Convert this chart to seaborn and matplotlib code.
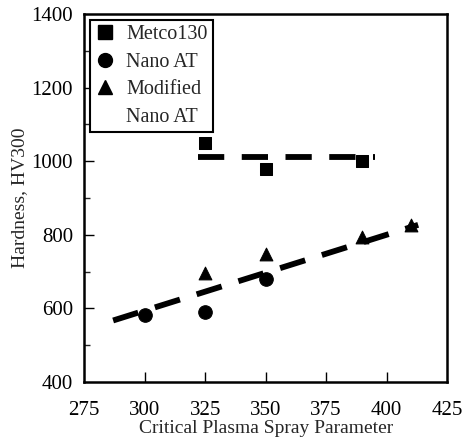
import matplotlib
matplotlib.use("Agg")
import matplotlib.pyplot as plt
import seaborn as sns
from matplotlib.lines import Line2D

# Data
metco_x = [325, 350, 390]
metco_y = [1050, 980, 1000]
nano_x = [300, 325, 350]
nano_y = [582, 590, 680]
mod_x = [325, 350, 390, 410]
mod_y = [695, 748, 795, 827]
metco_fit_x = [322, 395]
metco_fit_y = [1012, 1012]
nano_fit_x = [287, 413]
nano_fit_y = [567, 827]

x_ticks = [275, 300, 325, 350, 375, 400, 425]
y_ticks = [400, 600, 800, 1000, 1200, 1400]

sns.set_style("ticks")
plt.rcParams['font.family'] = ['Liberation Serif', 'DejaVu Serif']

fig = plt.figure(figsize=(4.62, 4.41), dpi=100)
ax = fig.add_axes([0.182, 0.134, 0.786, 0.834])

dash = (4.5, 3.0)
sns.lineplot(x=metco_fit_x, y=metco_fit_y, ax=ax, color='black', lw=4.2,
             legend=False)
ax.lines[-1].set_dashes(dash)
sns.lineplot(x=nano_fit_x, y=nano_fit_y, ax=ax, color='black', lw=4.2,
             legend=False)
ax.lines[-1].set_dashes(dash)

sns.scatterplot(x=metco_x, y=metco_y, marker='s', s=85, color='black',
                edgecolor='black', ax=ax, legend=False, zorder=3)
sns.scatterplot(x=nano_x, y=nano_y, marker='o', s=95, color='black',
                edgecolor='black', ax=ax, legend=False, zorder=3)
sns.scatterplot(x=mod_x, y=mod_y, marker='^', s=85, color='black',
                edgecolor='black', ax=ax, legend=False, zorder=3)

ax.set_xlim(275, 425)
ax.set_ylim(400, 1400)
ax.set_xticks(x_ticks)
ax.set_xticklabels([str(v) for v in x_ticks])
ax.set_yticks(y_ticks)
ax.set_yticks([500, 700, 900, 1100, 1300], minor=True)
ax.tick_params(axis='both', which='major', direction='in', length=7,
               width=1, labelsize=15, colors='black')
ax.tick_params(axis='y', which='minor', direction='in', length=4, width=1)
ax.tick_params(axis='x', pad=14)
ax.tick_params(axis='y', pad=8)
for t, v in zip(ax.xaxis.get_major_ticks(), x_ticks):
    if v in (275, 425):
        t.tick1line.set_visible(False)
for t, v in zip(ax.yaxis.get_major_ticks(), y_ticks):
    if v in (400, 1400):
        t.tick1line.set_visible(False)

for sp in ax.spines.values():
    sp.set_visible(True)
    sp.set_color('black')
    sp.set_linewidth(1.8)

ax.set_xlabel('Critical Plasma Spray Parameter', fontsize=14, labelpad=0)
ax.set_ylabel('Hardness, HV300', fontsize=14, labelpad=2)

handles = [
    Line2D([], [], marker='s', color='black', ls='none', markersize=9.5),
    Line2D([], [], marker='o', color='black', ls='none', markersize=10),
    Line2D([], [], marker='^', color='black', ls='none', markersize=9.5),
    Line2D([], [], marker='', color='none', ls='none'),
]
labels = ['Metco130', 'Nano AT', 'Modified', 'Nano AT']
leg = ax.legend(handles, labels, loc='upper left', fontsize=14.5, frameon=True,
                fancybox=False, edgecolor='black', framealpha=1,
                borderaxespad=0.3, handletextpad=0.55, labelspacing=0.42,
                handlelength=1.0, borderpad=0.25)
leg.get_frame().set_linewidth(1.5)

fig.savefig('out.png', dpi=100)
